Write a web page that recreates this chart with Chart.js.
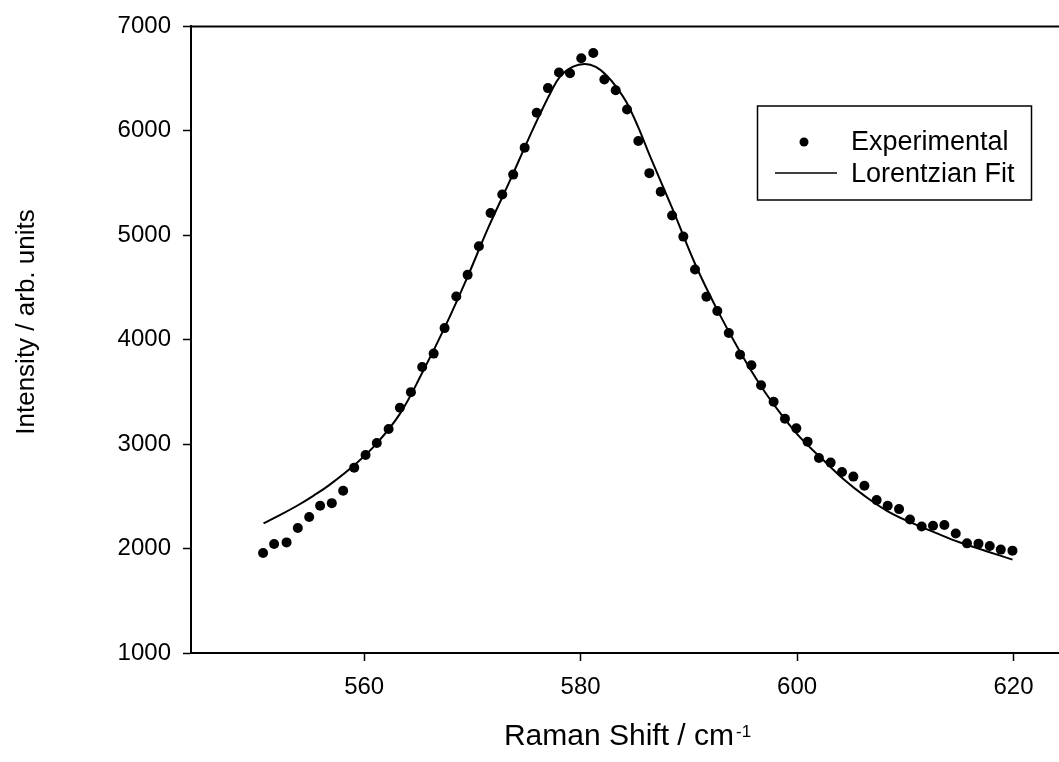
<!DOCTYPE html>
<html>
<head>
<meta charset="utf-8">
<script src="https://cdn.jsdelivr.net/npm/chart.js@4.4.1/dist/chart.umd.min.js"></script>
<style>
  html, body { margin: 0; padding: 0; background: #fff; }
  #wrap { width: 1059px; height: 762px; }
</style>
</head>
<body>
<div id="wrap"><canvas id="chartRaman" width="1059" height="762"></canvas></div>
<script>
// Experimental points (Raman shift, intensity)
const expShift = [550.66, 551.68, 552.83, 553.87, 554.92, 555.93, 557.01, 558.06, 559.08, 560.13,
  561.17, 562.26, 563.30, 564.32, 565.36, 566.42, 567.43, 568.51, 569.56, 570.60,
  571.68, 572.76, 573.77, 574.83, 575.94, 576.98, 578.00, 579.02, 580.06, 581.17,
  582.19, 583.24, 584.29, 585.33, 586.35, 587.40, 588.45, 589.49, 590.57, 591.62,
  592.63, 593.69, 594.73, 595.78, 596.67, 597.83, 598.88, 599.93, 600.97, 602.02,
  603.10, 604.15, 605.20, 606.22, 607.35, 608.37, 609.42, 610.43, 611.51, 612.56,
  613.61, 614.66, 615.70, 616.76, 617.80, 618.82, 619.90];
const expIntensity = [1958, 2044, 2059, 2197, 2302, 2410, 2435, 2553, 2775, 2896,
  3011, 3145, 3348, 3498, 3739, 3867, 4111, 4414, 4621, 4894,
  5213, 5390, 5581, 5839, 6173, 6409, 6558, 6552, 6695, 6745,
  6492, 6389, 6205, 5903, 5595, 5416, 5190, 4987, 4672, 4411,
  4274, 4064, 3857, 3755, 3564, 3405, 3243, 3151, 3023, 2868,
  2823, 2734, 2689, 2601, 2464, 2410, 2378, 2279, 2212, 2219,
  2225, 2145, 2050, 2047, 2025, 1990, 1980];

// Lorentzian fit curve
const fitShift = [550.7, 552.2, 553.8, 555.3, 556.8, 559.1, 561.1, 563.3, 565.4, 567.5,
  569.5, 571.5, 573.5, 575.0, 576.2, 577.2, 578.1, 579.3, 580.4, 581.4,
  582.4, 583.3, 584.2, 585.3, 586.4, 588.5, 590.6, 592.6, 594.7, 596.7,
  598.5, 600.3, 602.3, 604.3, 606.3, 608.3, 610.5, 612.7, 615.0, 617.5, 619.9];
const fitIntensity = [2241, 2320, 2410, 2505, 2610, 2800, 3000, 3290, 3690, 4130,
  4590, 5080, 5530, 5880, 6150, 6360, 6520, 6615, 6641, 6612,
  6530, 6420, 6280, 6040, 5760, 5250, 4720, 4290, 3890, 3550,
  3290, 3062, 2860, 2664, 2500, 2362, 2250, 2155, 2060, 1975, 1894];

const xTicks = [560, 580, 600, 620];
const yTicks = [1000, 2000, 3000, 4000, 5000, 6000, 7000];

const fontFamily = "'Liberation Sans', Arial, sans-serif";

// titles, legend and top frame line
const decorations = {
  id: 'decorations',
  afterDraw(chart) {
    const ctx = chart.ctx;
    const area = chart.chartArea;
    ctx.save();
    ctx.strokeStyle = '#000';
    ctx.fillStyle = '#000';

    // top frame
    ctx.lineWidth = 2;
    ctx.beginPath();
    ctx.moveTo(area.left - 1, area.top);
    ctx.lineTo(chart.width, area.top);
    ctx.stroke();

    // y title
    ctx.font = '26px ' + fontFamily;
    ctx.textAlign = 'center';
    ctx.textBaseline = 'alphabetic';
    ctx.save();
    ctx.translate(34, 322);
    ctx.rotate(-Math.PI / 2);
    ctx.fillText('Intensity / arb. units', 0, 0);
    ctx.restore();

    // x title with superscript
    ctx.font = '30px ' + fontFamily;
    const main = 'Raman Shift / cm';
    const w = ctx.measureText(main).width;
    ctx.textAlign = 'left';
    ctx.fillText(main, 734 - w, 745);
    ctx.font = '17px ' + fontFamily;
    ctx.fillText('-1', 736, 737);

    // legend
    ctx.lineWidth = 1.5;
    ctx.strokeRect(757.5, 106, 274, 94);
    ctx.beginPath();
    ctx.arc(804, 142, 4.5, 0, Math.PI * 2);
    ctx.fill();
    ctx.beginPath();
    ctx.moveTo(775, 173);
    ctx.lineTo(837, 173);
    ctx.stroke();
    ctx.font = '27px ' + fontFamily;
    ctx.fillText('Experimental', 851, 150);
    ctx.fillText('Lorentzian Fit', 851, 182);
    ctx.restore();
  }
};

const ctx = document.getElementById('chartRaman').getContext('2d');
const chartRaman = new Chart(ctx, {
  type: 'scatter',
  data: {
    datasets: [{
      label: 'Experimental',
      data: expShift.map((x, i) => ({ x: x, y: expIntensity[i] })),
      pointRadius: 5,
      pointBackgroundColor: '#000',
      pointBorderWidth: 0,
      showLine: false,
      order: 0
    }, {
      label: 'Lorentzian Fit',
      type: 'line',
      data: fitShift.map((x, i) => ({ x: x, y: fitIntensity[i] })),
      borderColor: '#000',
      borderWidth: 2,
      pointRadius: 0,
      fill: false,
      tension: 0.4,
      order: 1
    }]
  },
  options: {
    responsive: false,
    animation: false,
    layout: { autoPadding: false, padding: { left: 0, right: 0, top: 24, bottom: 0 } },
    plugins: {
      legend: { display: false },
      tooltip: { enabled: false }
    },
    scales: {
      x: {
        type: 'linear',
        min: 544,
        max: 624.2,
        afterBuildTicks: axis => { axis.ticks = xTicks.map(v => ({ value: v })); },
        afterFit: scale => {
          scale.height = 109;
          scale.paddingLeft = 0;
          scale.paddingRight = 0;
        },
        border: { display: true, color: '#000', width: 2 },
        grid: { drawOnChartArea: false, drawTicks: true, tickLength: 8, tickColor: '#000', tickWidth: 1.5 },
        ticks: { color: '#000', padding: 12, maxRotation: 0, font: { family: fontFamily, size: 24 } }
      },
      y: {
        min: 1000,
        max: 7000,
        afterBuildTicks: axis => { axis.ticks = yTicks.map(v => ({ value: v })); },
        afterFit: scale => { scale.width = 191; },
        border: { display: true, color: '#000', width: 2 },
        grid: { drawOnChartArea: false, drawTicks: true, tickLength: 8, tickColor: '#000', tickWidth: 1.5 },
        ticks: { color: '#000', padding: 12, font: { family: fontFamily, size: 24 }, callback: v => String(v) }
      }
    }
  },
  plugins: [decorations]
});
</script>
</body>
</html>
